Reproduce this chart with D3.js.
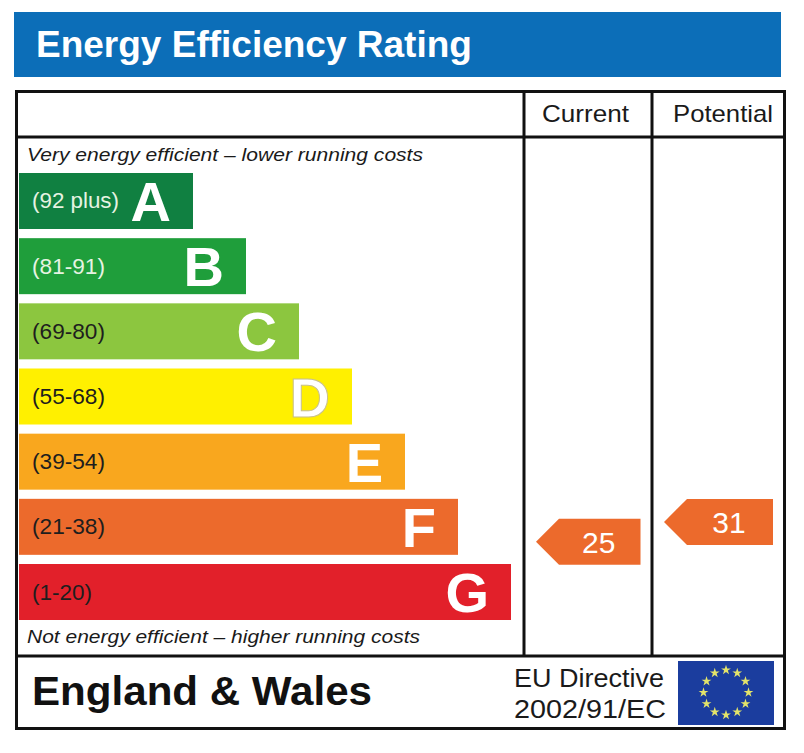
<!DOCTYPE html>
<html>
<head>
<meta charset="utf-8">
<script src="https://cdn.jsdelivr.net/npm/d3@7"></script>
<style>
  body { margin: 0; background: #fff; }
  text { font-family: "Liberation Sans", Arial, sans-serif; }
</style>
</head>
<body>
<script>
    // bands, ratings and labels
    const bands = ["A", "B", "C", "D", "E", "F", "G"]
    const ranges = ["(92 plus)", "(81-91)", "(69-80)", "(55-68)", "(39-54)", "(21-38)", "(1-20)"]
    const bandLow = [92, 81, 69, 55, 39, 21, 1]
    const bandHigh = [100, 91, 80, 68, 54, 38, 20]
    const bandColors = ["#108041", "#1f9e3b", "#8cc63f", "#fff000", "#f9a71e", "#ec6a2c", "#e2202a"]
    const labelColors = ["#e6f3e2", "#e6f3e2", "#1e1e1e", "#1e1e1e", "#1e1e1e", "#1e1e1e", "#1e1e1e"]
    const columns = ["Current", "Potential"]
    const ratings = [25, 31]
    const arrowColor = "#ec6a2c"

    const W = 804, H = 753
    const box = { x0: 16.5, x1: 784.5, y0: 91.5, y1: 728.5, head: 137, foot: 656 }
    const colX = [524, 652, 784.5]

    const svg = d3.select("body")
        .append("svg")
        .attr("width", W)
        .attr("height", H)

    // title banner
    svg.append("rect")
        .attr("x", 14).attr("y", 12)
        .attr("width", 767).attr("height", 65)
        .style("fill", "#0c6eb8")
    svg.append("text")
        .attr("x", 36).attr("y", 57)
        .style("font-size", "37px")
        .style("font-weight", "bold")
        .style("fill", "#fff")
        .text("Energy Efficiency Rating")

    // scales
    const y = d3.scaleBand()
        .domain(bands)
        .range([173, 620])
        .paddingInner(0.1407)
        .paddingOuter(0)
    const xRight = d3.scaleLinear()
        .domain([0, bands.length - 1])
        .range([193, 511])
    const barLeft = 19

    // bars
    const bar = svg.append("g")
        .selectAll("g")
        .data(bands)
        .join("g")
    bar.append("rect")
        .attr("x", barLeft)
        .attr("y", (d) => y(d))
        .attr("width", (_, i) => xRight(i) - barLeft)
        .attr("height", y.bandwidth())
        .style("fill", (_, i) => bandColors[i])
    bar.append("text")
        .attr("x", 32)
        .attr("y", (d) => y(d) + y.bandwidth() / 2 + 7.5)
        .attr("textLength", (_, i) => [87, 73, 73, 73, 73, 73, 60][i])
        .attr("lengthAdjust", "spacingAndGlyphs")
        .style("font-size", "22px")
        .style("fill", (_, i) => labelColors[i])
        .text((_, i) => ranges[i])
    bar.append("text")
        .attr("x", (_, i) => xRight(i) - 22)
        .attr("y", (d) => y(d) + y.bandwidth() / 2 + 20)
        .attr("text-anchor", "end")
        .style("font-size", "56px")
        .style("font-weight", "bold")
        .style("fill", "#fff")
        .style("stroke", (d) => d === "D" ? "#c9c08a" : "none")
        .style("stroke-width", 1)
        .text((d) => d)

    // captions
    svg.append("text")
        .attr("x", 27).attr("y", 161)
        .attr("textLength", 396)
        .attr("lengthAdjust", "spacingAndGlyphs")
        .style("font-size", "19px")
        .style("font-style", "italic")
        .style("fill", "#1a1a1a")
        .text("Very energy efficient – lower running costs")
    svg.append("text")
        .attr("x", 27).attr("y", 643)
        .attr("textLength", 393)
        .attr("lengthAdjust", "spacingAndGlyphs")
        .style("font-size", "19px")
        .style("font-style", "italic")
        .style("fill", "#1a1a1a")
        .text("Not energy efficient – higher running costs")

    // frame
    const frame = svg.append("g")
        .style("stroke", "#111")
        .style("stroke-width", 3)
        .style("fill", "none")
    frame.append("rect")
        .attr("x", box.x0).attr("y", box.y0)
        .attr("width", box.x1 - box.x0).attr("height", box.y1 - box.y0)
    frame.append("line")
        .attr("x1", box.x0).attr("x2", box.x1)
        .attr("y1", box.head).attr("y2", box.head)
    frame.append("line")
        .attr("x1", box.x0).attr("x2", box.x1)
        .attr("y1", box.foot).attr("y2", box.foot)
    frame.selectAll("line.col")
        .data(colX.slice(0, 2))
        .join("line")
        .attr("class", "col")
        .attr("x1", (d) => d).attr("x2", (d) => d)
        .attr("y1", box.y0).attr("y2", box.foot)

    // column headers
    svg.selectAll("text.colhead")
        .data(columns)
        .join("text")
        .attr("class", "colhead")
        .attr("x", (_, i) => [542, 673][i])
        .attr("y", 122)
        .attr("textLength", (_, i) => [87, 100][i])
        .attr("lengthAdjust", "spacingAndGlyphs")
        .style("font-size", "24px")
        .style("fill", "#1a1a1a")
        .text((d) => d)

    // rating -> vertical position inside its band
    const ratingY = (v) => {
        const i = bands.findIndex((_, k) => v >= bandLow[k] && v <= bandHigh[k])
        const s = d3.scaleLinear()
            .domain([bandLow[i], bandHigh[i]])
            .range([y(bands[i]) + y.bandwidth(), y(bands[i])])
        return s(v)
    }

    // arrows
    const aH = 46, tip = 23
    const arrow = svg.append("g")
        .selectAll("g")
        .data(ratings)
        .join("g")
    arrow.append("path")
        .attr("d", (v, i) => {
            const l = colX[i] + 12, r = colX[i + 1] - 11.5, c = ratingY(v)
            return d3.line()([
                [l, c], [l + tip, c - aH / 2], [r, c - aH / 2],
                [r, c + aH / 2], [l + tip, c + aH / 2]
            ]) + "Z"
        })
        .style("fill", arrowColor)
    arrow.append("text")
        .attr("x", (_, i) => (colX[i] + 12 + tip + colX[i + 1] - 11.5) / 2 - 1)
        .attr("y", (v) => ratingY(v) + 11)
        .attr("text-anchor", "middle")
        .style("font-size", "30px")
        .style("fill", "#fff")
        .text((v) => v)

    // footer
    svg.append("text")
        .attr("x", 32).attr("y", 705)
        .attr("textLength", 340)
        .attr("lengthAdjust", "spacingAndGlyphs")
        .style("font-size", "41px")
        .style("font-weight", "bold")
        .style("fill", "#111")
        .text("England & Wales")
    svg.append("text")
        .attr("x", 514).attr("y", 687)
        .attr("textLength", 150)
        .attr("lengthAdjust", "spacingAndGlyphs")
        .style("font-size", "26px")
        .style("fill", "#1a1a1a")
        .text("EU Directive")
    svg.append("text")
        .attr("x", 514).attr("y", 718)
        .attr("textLength", 152)
        .attr("lengthAdjust", "spacingAndGlyphs")
        .style("font-size", "26px")
        .style("fill", "#1a1a1a")
        .text("2002/91/EC")

    // EU flag
    svg.append("rect")
        .attr("x", 678).attr("y", 661)
        .attr("width", 96).attr("height", 64)
        .style("fill", "#1b3d9e")
    svg.append("g")
        .attr("transform", "translate(726,692.5)")
        .selectAll("path")
        .data(d3.range(12))
        .join("path")
        .attr("transform", (k) => {
            const a = k * Math.PI / 6
            return `translate(${22.5 * Math.sin(a)},${-22.5 * Math.cos(a)})`
        })
        .attr("d", d3.symbol(d3.symbolStar, 30))
        .style("fill", "#e3e46a")
</script>
</body>
</html>
